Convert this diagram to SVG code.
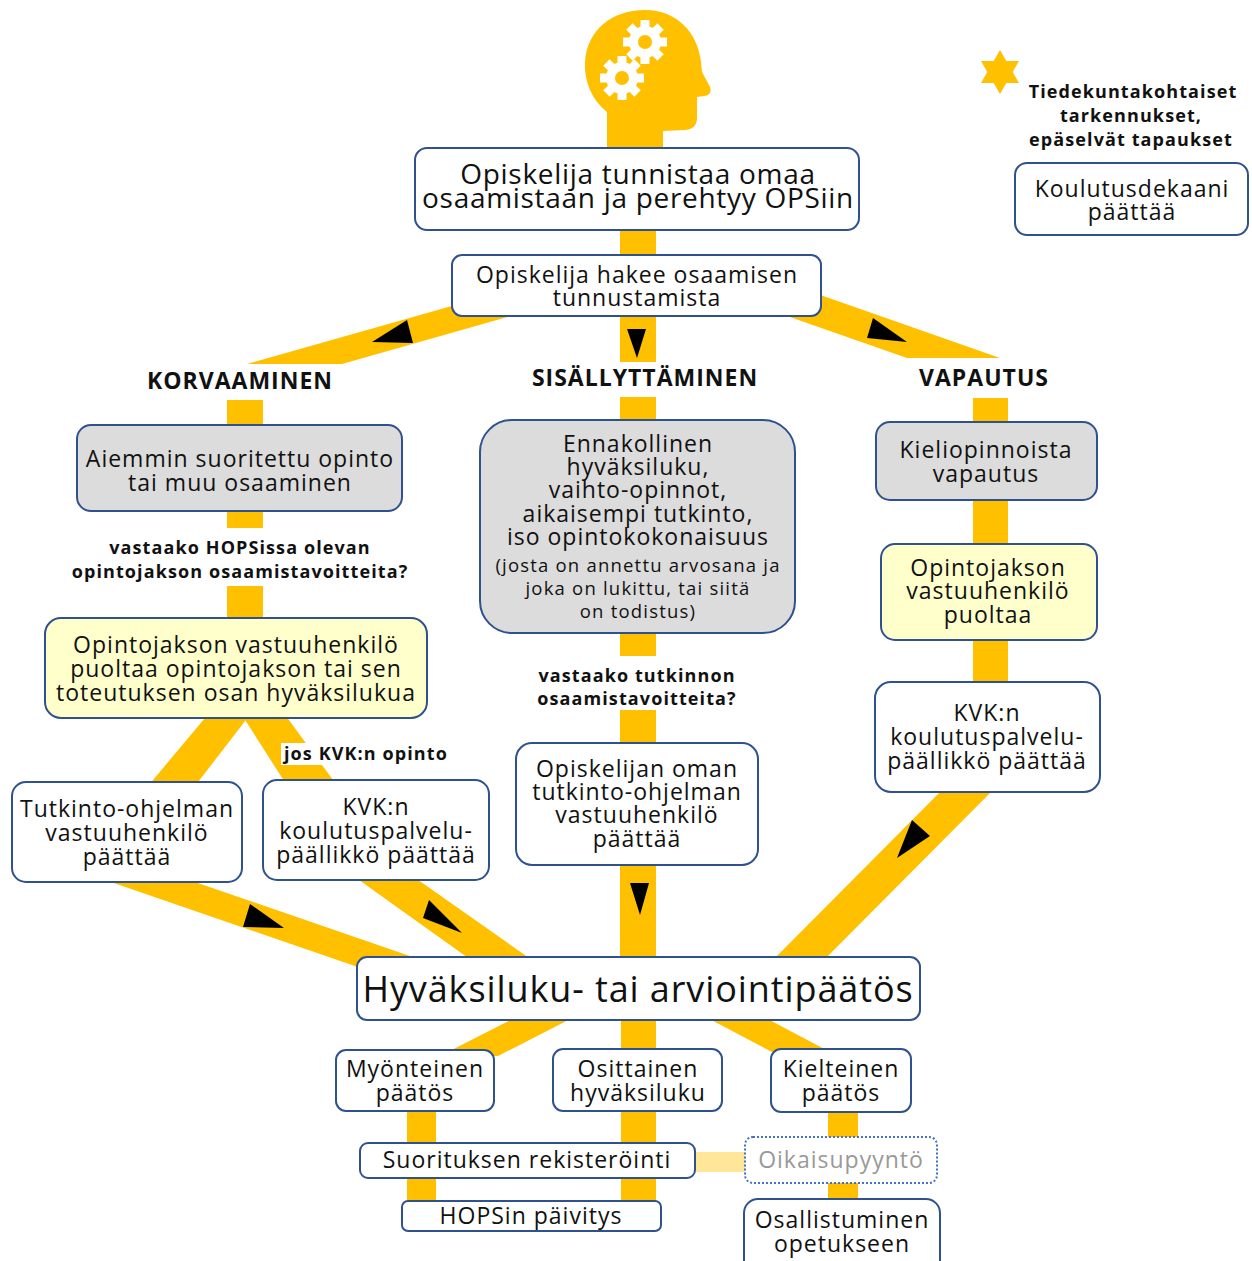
<svg xmlns="http://www.w3.org/2000/svg" width="1252" height="1261" viewBox="0 0 1252 1261">
<style>
.box{fill:#fff;stroke:#2f528f;stroke-width:2}
.grey{fill:#dcdcdc}
.pale{fill:#ffffcc}
.dot{fill:#fff;stroke:#4472c4;stroke-width:2;stroke-dasharray:2 2}
.t{font-family:"Open Sans","Liberation Sans",sans-serif;fill:#111;text-anchor:middle;font-size:23px;letter-spacing:1px}
.b{font-weight:bold;letter-spacing:1.1px}
.sm{font-size:18.5px;letter-spacing:1.2px}
.lb{font-size:18px}
.hd{font-size:23px;letter-spacing:1px}
.band{fill:#ffc000}
.lite{fill:#ffe699}
.arr{fill:#000}
</style>
<defs>
<g id="gear">
<circle r="16" fill="#fff"/>
<rect x="-4.5" y="-22" width="9" height="10" fill="#fff"/>
<rect x="-4.5" y="-22" width="9" height="10" fill="#fff" transform="rotate(45)"/>
<rect x="-4.5" y="-22" width="9" height="10" fill="#fff" transform="rotate(90)"/>
<rect x="-4.5" y="-22" width="9" height="10" fill="#fff" transform="rotate(135)"/>
<rect x="-4.5" y="-22" width="9" height="10" fill="#fff" transform="rotate(180)"/>
<rect x="-4.5" y="-22" width="9" height="10" fill="#fff" transform="rotate(225)"/>
<rect x="-4.5" y="-22" width="9" height="10" fill="#fff" transform="rotate(270)"/>
<rect x="-4.5" y="-22" width="9" height="10" fill="#fff" transform="rotate(315)"/>
<circle r="7" fill="#ffc000"/>
</g>
</defs>
<rect width="1252" height="1261" fill="#fff"/>

<g id="head">
<path class="band" d="M607,150 L607,112 C592,100 584,82 585,62 C587,30 612,10 645,10 C677,10 698,33 701,62 L702,72 L710,87 C712,92 709,96 704,96 L697,97 L697,118 C697,126 692,130 684,130 L663,131 L663,150 Z"/>
<use href="#gear" x="645" y="42"/>
<use href="#gear" x="622" y="78"/>
</g>

<g id="connectors">
<rect class="band" x="620" y="225" width="36" height="35"/>
<rect class="band" x="620" y="312" width="36" height="50"/>
<polygon class="band" points="247,364 342,364 567,300 473,300"/>
<polygon class="band" points="907,358 1000,358 809,291 716,291"/>
<rect class="band" x="227" y="400" width="36" height="28"/>
<rect class="band" x="227" y="508" width="36" height="20"/>
<rect class="band" x="227" y="586" width="36" height="34"/>
<polygon class="band" points="210,712 252,712 195,786 148,786"/>
<polygon class="band" points="240,712 283,712 336,784 286,784"/>
<rect class="band" x="620" y="397" width="36" height="25"/>
<rect class="band" x="620" y="631" width="36" height="25"/>
<rect class="band" x="620" y="710" width="36" height="35"/>
<rect class="band" x="620" y="863" width="36" height="96"/>
<rect class="band" x="973" y="398" width="35" height="26"/>
<rect class="band" x="973" y="498" width="35" height="48"/>
<rect class="band" x="973" y="638" width="35" height="46"/>
<polygon class="band" points="952,780 1003,780 819,965 768,965"/>
<polygon class="band" points="76,870 160,870 465,975 381,975"/>
<polygon class="band" points="345,870 404,870 539,965 478,965"/>
<polygon class="band" points="440,1056 498,1056 580,1014 522,1014"/>
<polygon class="band" points="700,1014 758,1014 830,1052 772,1052"/>
<rect class="band" x="621" y="1018" width="35" height="34"/>
<rect class="band" x="407" y="1109" width="29" height="36"/>
<rect class="band" x="621" y="1109" width="35" height="36"/>
<rect class="band" x="828" y="1110" width="30" height="29"/>
<rect class="band" x="407" y="1176" width="29" height="27"/>
<rect class="band" x="621" y="1176" width="35" height="27"/>
<rect class="band" x="828" y="1181" width="30" height="20"/>
<rect class="lite" x="695" y="1152" width="52" height="20"/>
<polygon class="arr" points="627,329 646,329 637,358"/>
<polygon class="arr" points="372,342 407,320 413,343"/>
<polygon class="arr" points="873,318 867,338 907,342"/>
<polygon class="arr" points="250,904 243,927 284,928"/>
<polygon class="arr" points="429,900 423,918 462,933"/>
<polygon class="arr" points="630,883 649,883 640,915"/>
<polygon class="arr" points="912,820 930,836 897,858"/>
</g>

<g id="legend">
<polygon class="band" points="1000,50 1006.3,61 1019,61 1012.7,72 1019,83 1006.3,83 1000,94 993.7,83 981,83 987.3,72 981,61 993.7,61"/>
<text class="t b lb" x="1133" y="98">Tiedekuntakohtaiset</text>
<text class="t b lb" x="1131" y="122">tarkennukset,</text>
<text class="t b lb" x="1131" y="146">epäselvät tapaukset</text>
</g>
<g id="n-dekaani">
<rect class="box" x="1015" y="163" width="233" height="72" rx="12"/>
<text class="t" x="1132" y="197">Koulutusdekaani</text>
<text class="t" x="1132" y="220">päättää</text>
</g>

<g id="n-tunnistaa">
<rect class="box" x="415" y="148" width="444" height="82" rx="12"/>
<text class="t" x="638" y="184" style="font-size:28px;letter-spacing:0.7px">Opiskelija tunnistaa omaa</text>
<text class="t" x="638" y="208" style="font-size:28px;letter-spacing:0.7px">osaamistaan ja perehtyy OPSiin</text>
</g>
<g id="n-hakee">
<rect class="box" x="452" y="255" width="369" height="61" rx="10"/>
<text class="t" x="637" y="283">Opiskelija hakee osaamisen</text>
<text class="t" x="637" y="306">tunnustamista</text>
</g>

<g id="h-korvaaminen"><text class="t b hd" x="240" y="389">KORVAAMINEN</text></g>
<g id="h-sisallyttaminen"><text class="t b hd" x="645" y="386">SISÄLLYTTÄMINEN</text></g>
<g id="h-vapautus"><text class="t b hd" x="984" y="386">VAPAUTUS</text></g>

<g id="n-aiemmin">
<rect class="box grey" x="77" y="425" width="325" height="86" rx="14"/>
<text class="t" x="240" y="467">Aiemmin suoritettu opinto</text>
<text class="t" x="240" y="491">tai muu osaaminen</text>
</g>
<g id="q-hops">
<text class="t b lb" x="240" y="554">vastaako HOPSissa olevan</text>
<text class="t b lb" x="240" y="578">opintojakson osaamistavoitteita?</text>
</g>
<g id="n-puoltaa-left">
<rect class="box pale" x="45" y="618" width="382" height="100" rx="16"/>
<text class="t" x="236" y="653">Opintojakson vastuuhenkilö</text>
<text class="t" x="236" y="677">puoltaa opintojakson tai sen</text>
<text class="t" x="236" y="701">toteutuksen osan hyväksilukua</text>
</g>
<g id="q-kvk">
<rect x="281" y="743" width="170" height="22" fill="#fff"/>
<text class="t b lb" x="366" y="760">jos KVK:n opinto</text>
</g>
<g id="n-tutkinto">
<rect class="box" x="12" y="782" width="230" height="100" rx="14"/>
<text class="t" x="127" y="817">Tutkinto-ohjelman</text>
<text class="t" x="127" y="841">vastuuhenkilö</text>
<text class="t" x="127" y="865">päättää</text>
</g>
<g id="n-kvk-left">
<rect class="box" x="263" y="780" width="226" height="100" rx="14"/>
<text class="t" x="376" y="815">KVK:n</text>
<text class="t" x="376" y="839">koulutuspalvelu-</text>
<text class="t" x="376" y="863">päällikkö päättää</text>
</g>

<g id="n-ennakollinen">
<rect class="box grey" x="480" y="420" width="315" height="213" rx="32"/>
<text class="t" x="638" y="452">Ennakollinen</text>
<text class="t" x="638" y="475">hyväksiluku,</text>
<text class="t" x="638" y="498">vaihto-opinnot,</text>
<text class="t" x="638" y="522">aikaisempi tutkinto,</text>
<text class="t" x="638" y="545">iso opintokokonaisuus</text>
<text class="t sm" x="638" y="572">(josta on annettu arvosana ja</text>
<text class="t sm" x="638" y="595">joka on lukittu, tai siitä</text>
<text class="t sm" x="638" y="618">on todistus)</text>
</g>
<g id="q-tutkinto">
<text class="t b lb" x="637" y="682">vastaako tutkinnon</text>
<text class="t b lb" x="637" y="705">osaamistavoitteita?</text>
</g>
<g id="n-oman">
<rect class="box" x="516" y="743" width="242" height="122" rx="16"/>
<text class="t" x="637" y="777">Opiskelijan oman</text>
<text class="t" x="637" y="800">tutkinto-ohjelman</text>
<text class="t" x="637" y="823">vastuuhenkilö</text>
<text class="t" x="637" y="847">päättää</text>
</g>

<g id="n-kieli">
<rect class="box grey" x="876" y="422" width="221" height="78" rx="14"/>
<text class="t" x="986" y="458">Kieliopinnoista</text>
<text class="t" x="986" y="482">vapautus</text>
</g>
<g id="n-puoltaa-right">
<rect class="box pale" x="881" y="544" width="216" height="96" rx="14"/>
<text class="t" x="988" y="576">Opintojakson</text>
<text class="t" x="988" y="599">vastuuhenkilö</text>
<text class="t" x="988" y="623">puoltaa</text>
</g>
<g id="n-kvk-right">
<rect class="box" x="875" y="682" width="225" height="110" rx="16"/>
<text class="t" x="987" y="721">KVK:n</text>
<text class="t" x="987" y="745">koulutuspalvelu-</text>
<text class="t" x="987" y="769">päällikkö päättää</text>
</g>

<g id="n-paatos">
<rect class="box" x="357" y="957" width="563" height="63" rx="10"/>
<text class="t" x="638" y="1002" style="font-size:36px;letter-spacing:0.9px">Hyväksiluku- tai arviointipäätös</text>
</g>
<g id="n-myonteinen">
<rect class="box" x="336" y="1050" width="158" height="61" rx="10"/>
<text class="t" x="415" y="1077">Myönteinen</text>
<text class="t" x="415" y="1101">päätös</text>
</g>
<g id="n-osittainen">
<rect class="box" x="553" y="1049" width="169" height="62" rx="10"/>
<text class="t" x="638" y="1077">Osittainen</text>
<text class="t" x="638" y="1101">hyväksiluku</text>
</g>
<g id="n-kielteinen">
<rect class="box" x="771" y="1049" width="140" height="63" rx="10"/>
<text class="t" x="841" y="1077">Kielteinen</text>
<text class="t" x="841" y="1101">päätös</text>
</g>
<g id="n-rekisterointi">
<rect class="box" x="360" y="1143" width="335" height="35" rx="8"/>
<text class="t" x="527" y="1168">Suorituksen rekisteröinti</text>
</g>
<g id="n-oikaisu">
<rect class="dot" x="745" y="1137" width="192" height="46" rx="8"/>
<text class="t" x="841" y="1168" style="fill:#999">Oikaisupyyntö</text>
</g>
<g id="n-hops">
<rect class="box" x="402" y="1201" width="259" height="30" rx="6"/>
<text class="t" x="531" y="1224">HOPSin päivitys</text>
</g>
<g id="n-osallistuminen">
<rect class="box" x="744" y="1199" width="196" height="80" rx="14"/>
<text class="t" x="842" y="1228">Osallistuminen</text>
<text class="t" x="842" y="1252">opetukseen</text>
</g>
</svg>
